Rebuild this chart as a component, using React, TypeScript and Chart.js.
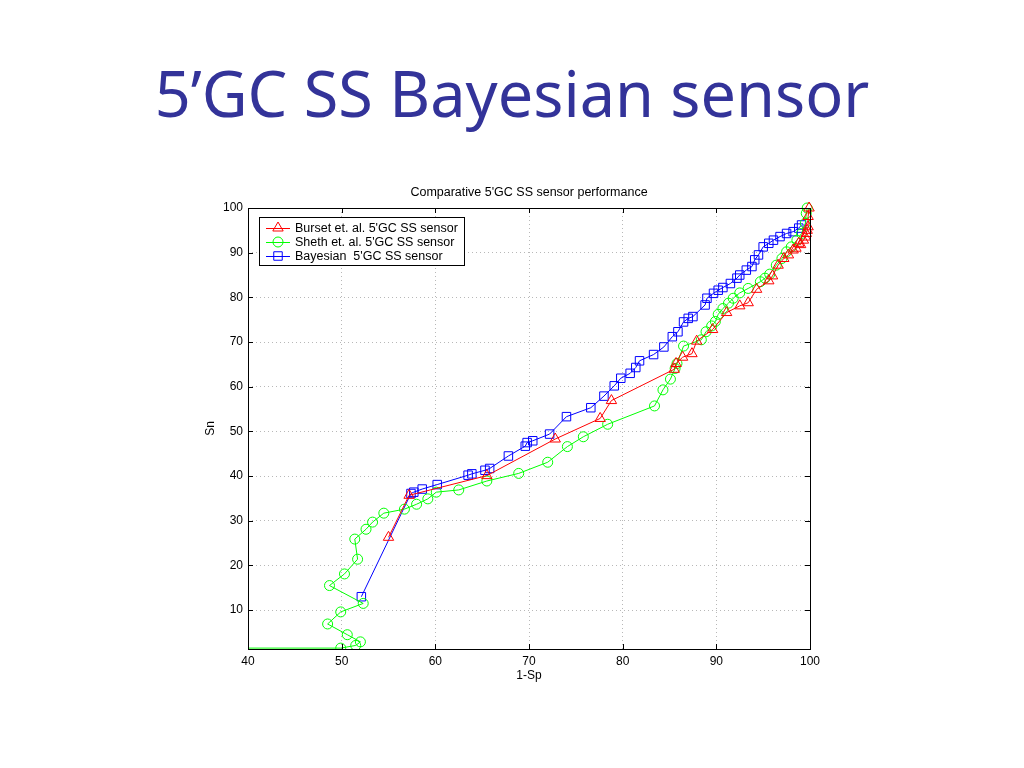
import React, { useEffect, useRef } from "react";
import { Chart, registerables } from "chart.js";
import { drawPoint } from "chart.js/helpers";

Chart.register(...registerables);

const pageTitle = "5’GC SS Bayesian sensor";
const chartTitle = "Comparative 5'GC SS sensor performance";
const xTitle = "1-Sp";
const yTitle = "Sn";
const xTickValues = [40, 50, 60, 70, 80, 90, 100];
const yTickValues = [10, 20, 30, 40, 50, 60, 70, 80, 90, 100];

const bursetLabel = "Burset et. al. 5'GC SS sensor";
const bursetX = [55.0, 57.2, 65.5, 72.8, 77.6, 78.8, 85.5, 85.7, 86.4, 87.4, 87.9, 89.6, 91.1, 92.5, 93.4, 94.3, 95.6, 96.0, 96.6, 97.2, 97.7, 98.2, 98.5, 98.8, 99.0, 99.3, 99.5, 99.6, 99.7, 99.8, 99.8, 99.9];
const bursetY = [26.3, 35.7, 40.1, 48.3, 52.9, 56.9, 63.9, 65.2, 66.6, 67.4, 70.2, 72.8, 76.6, 78.1, 78.8, 81.8, 83.7, 84.8, 87.2, 88.7, 89.5, 90.6, 91.0, 92.1, 91.8, 92.8, 93.5, 94.3, 95.0, 95.8, 98.1, 100];

const shethLabel = "Sheth et. al. 5'GC SS sensor";
const shethX = [0, 49.9, 51.5, 52.0, 50.6, 48.5, 49.9, 52.3, 48.7, 50.3, 51.7, 51.4, 52.6, 53.3, 54.5, 56.7, 58.0, 59.2, 60.1, 62.5, 65.5, 68.9, 72.0, 74.1, 75.8, 78.4, 83.4, 84.3, 85.1, 85.6, 85.8, 86.5, 88.4, 88.9, 89.5, 89.9, 90.2, 90.7, 91.3, 91.8, 92.5, 93.4, 94.7, 95.2, 95.7, 96.4, 97.0, 97.5, 98.0, 98.6, 99.1, 99.5, 99.6, 99.7];
const shethY = [1.5, 1.5, 2.1, 2.9, 4.5, 6.9, 9.6, 11.5, 15.5, 18.1, 21.4, 25.9, 28.1, 29.7, 31.7, 32.6, 33.7, 34.9, 36.4, 36.9, 38.9, 40.6, 43.1, 46.6, 48.8, 51.6, 55.7, 59.3, 61.7, 64.1, 65.2, 69.1, 70.5, 72.3, 73.6, 74.6, 76.2, 77.5, 78.7, 79.8, 81.0, 82.0, 83.5, 84.3, 85.2, 87.2, 88.7, 90.2, 91.3, 92.8, 94.3, 96.6, 98.8, 100];

const bayesLabel = "Bayesian  5'GC SS sensor";
const bayesX = [52.1, 57.4, 57.7, 58.6, 60.2, 63.5, 63.9, 65.3, 65.8, 67.8, 69.6, 69.8, 70.4, 72.2, 74.0, 76.6, 78.0, 79.1, 79.8, 80.8, 81.4, 81.8, 83.3, 84.4, 85.3, 85.9, 86.5, 87.0, 87.5, 88.8, 89.0, 89.7, 90.2, 90.7, 91.5, 92.2, 92.5, 93.2, 93.8, 94.1, 94.5, 95.0, 95.6, 96.1, 96.8, 97.5, 98.2, 98.8, 99.1];
const bayesY = [13.0, 36.1, 36.4, 37.1, 38.1, 40.2, 40.5, 41.3, 41.7, 44.5, 46.7, 47.5, 47.9, 49.4, 53.3, 55.3, 57.9, 60.2, 61.9, 63.0, 64.3, 65.8, 67.2, 68.9, 71.2, 72.3, 74.5, 75.3, 75.7, 78.3, 79.8, 80.9, 81.6, 82.2, 83.1, 84.3, 85.0, 86.1, 86.9, 88.4, 89.5, 91.3, 92.1, 92.8, 93.6, 94.3, 94.7, 95.5, 96.2];

const FONT = "'Liberation Sans', Arial, sans-serif";

const toPoints = (xs: number[], ys: number[]) => xs.map((x, i) => ({ x, y: ys[i] }));

const framePlugin = {
  id: "matlabFrame",
  afterDraw(chart: any) {
    const { ctx, chartArea: a, scales } = chart;
    ctx.save();
    // chart title centred over the axes
    ctx.fillStyle = "#000";
    ctx.font = "12.5px " + FONT;
    ctx.textAlign = "center";
    ctx.textBaseline = "middle";
    ctx.fillText(chartTitle, (a.left + a.right) / 2, a.top - 15);

    // frame
    ctx.strokeStyle = "#000";
    ctx.lineWidth = 1;
    ctx.setLineDash([]);
    ctx.strokeRect(a.left + 0.5, a.top + 0.5, a.right - a.left, a.bottom - a.top);
    // inward ticks
    const tl = 5;
    ctx.beginPath();
    xTickValues.forEach((v) => {
      const x = Math.round(scales.x.getPixelForValue(v)) + 0.5;
      ctx.moveTo(x, a.bottom);
      ctx.lineTo(x, a.bottom - tl);
      ctx.moveTo(x, a.top);
      ctx.lineTo(x, a.top + tl);
    });
    yTickValues.forEach((v) => {
      const y = Math.round(scales.y.getPixelForValue(v)) + 0.5;
      ctx.moveTo(a.left, y);
      ctx.lineTo(a.left + tl, y);
      ctx.moveTo(a.right, y);
      ctx.lineTo(a.right - tl, y);
    });
    ctx.stroke();

    // legend box
    const bx = a.left + 11;
    const by = a.top + 9;
    ctx.font = "12.5px " + FONT;
    const items = chart.data.datasets;
    let maxW = 0;
    items.forEach((d: any) => {
      maxW = Math.max(maxW, ctx.measureText(d.label).width);
    });
    const bw = Math.round(36 + maxW + 6);
    const bh = 48;
    ctx.fillStyle = "#fff";
    ctx.fillRect(bx, by, bw, bh);
    ctx.strokeStyle = "#000";
    ctx.strokeRect(bx + 0.5, by + 0.5, bw, bh);
    items.forEach((d: any, i: number) => {
      const y = by + 11 + i * 14;
      ctx.strokeStyle = d.borderColor;
      ctx.lineWidth = 1;
      ctx.beginPath();
      ctx.moveTo(bx + 7, y + 0.5);
      ctx.lineTo(bx + 31, y + 0.5);
      ctx.stroke();
      ctx.fillStyle = "rgba(0,0,0,0)";
      drawPoint(ctx, { pointStyle: d.pointStyle, radius: d.pointRadius, rotation: 0, borderWidth: 1 } as any, bx + 19, y);
      ctx.fillStyle = "#000";
      ctx.textBaseline = "middle";
      ctx.textAlign = "left";
      ctx.fillText(d.label, bx + 36, y + 1);
    });
    ctx.restore();
  },
};

export default function App() {
  const ref = useRef<HTMLCanvasElement | null>(null);

  useEffect(() => {
    if (!ref.current) return;
    const mk = (label: string, xs: number[], ys: number[], color: string, style: string, r: number) => ({
      label,
      data: toPoints(xs, ys),
      showLine: true,
      borderColor: color,
      backgroundColor: "rgba(0,0,0,0)",
      borderWidth: 1,
      pointStyle: style,
      pointRadius: r,
      pointBorderWidth: 1,
      pointBorderColor: color,
      pointBackgroundColor: "rgba(0,0,0,0)",
      tension: 0,
      clip: { left: 0, top: 8, right: 8, bottom: 0 },
    });
    const chart = new Chart(ref.current, {
      type: "scatter",
      data: {
        datasets: [
          mk(bursetLabel, bursetX, bursetY, "#ff0000", "triangle", 6),
          mk(shethLabel, shethX, shethY, "#00ff00", "circle", 5),
          mk(bayesLabel, bayesX, bayesY, "#0000ff", "rect", 6),
        ] as any,
      },
      options: {
        animation: false,
        responsive: false,
        devicePixelRatio: 1,
        layout: { padding: { left: 0, right: 30, top: 28, bottom: 0 } },
        plugins: {
          legend: { display: false },
          tooltip: { enabled: false },
          title: { display: false },
        },
        scales: {
          x: {
            type: "linear",
            min: 40,
            max: 100,
            afterBuildTicks: (axis: any) => {
              axis.ticks = xTickValues.map((v) => ({ value: v }));
            },
            afterFit: (axis: any) => {
              axis.height = 51;
            },
            ticks: { color: "#000", font: { family: FONT, size: 12 }, padding: 5, maxRotation: 0, autoSkip: false },
            grid: {
              display: true,
              drawTicks: false,
              color: "rgba(0,0,0,0.28)",
              lineWidth: 1,
            },
            border: { display: false, dash: [1, 3] },
            title: {
              display: true,
              text: xTitle,
              color: "#000",
              font: { family: FONT, size: 12 },
              padding: { top: 4, bottom: 17 },
            },
          },
          y: {
            type: "linear",
            min: 1.3,
            max: 100,
            afterBuildTicks: (axis: any) => {
              axis.ticks = yTickValues.map((v) => ({ value: v }));
            },
            afterFit: (axis: any) => {
              axis.width = 88;
            },
            ticks: { color: "#000", font: { family: FONT, size: 12 }, padding: 5, autoSkip: false },
            grid: {
              display: true,
              drawTicks: false,
              color: "rgba(0,0,0,0.28)",
              lineWidth: 1,
            },
            border: { display: false, dash: [1, 3] },
            title: {
              display: true,
              text: yTitle,
              color: "#000",
              font: { family: FONT, size: 12 },
              padding: { top: 43, bottom: 0 },
            },
          },
        },
      },
      plugins: [framePlugin],
    });
    return () => chart.destroy();
  }, []);

  return (
    <div style={{ position: "absolute", left: 0, top: 0, width: 1024, height: 768, background: "#fff", overflow: "hidden" }}>
      <div
        style={{
          position: "absolute",
          left: 0,
          width: 1024,
          top: 60,
          textAlign: "center",
          fontFamily: "'Noto Sans', sans-serif",
          fontSize: 63,
          lineHeight: "66px",
          color: "#333399",
          whiteSpace: "nowrap",
        }}
      >
        {pageTitle}
      </div>
      <canvas
        ref={ref}
        width={680}
        height={520}
        style={{ position: "absolute", left: 160, top: 180, width: 680, height: 520 }}
      />
    </div>
  );
}
